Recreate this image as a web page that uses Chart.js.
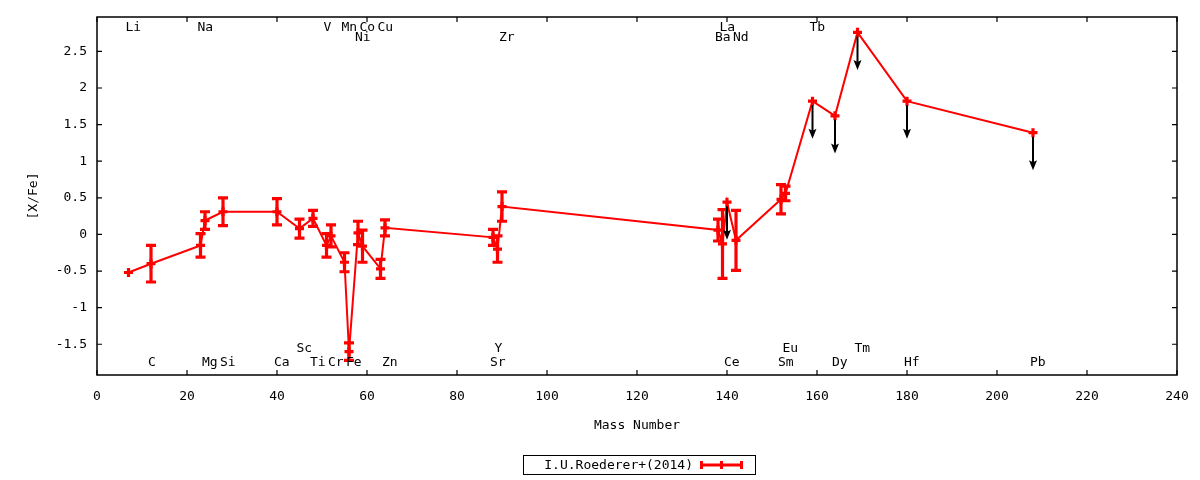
<!DOCTYPE html>
<html><head><meta charset="utf-8">
<script src="https://cdn.jsdelivr.net/npm/chart.js@4.4.1/dist/chart.umd.min.js"></script>
<style>html,body{margin:0;padding:0;background:#fff;}#wrap{width:1200px;height:480px;position:relative;}</style>
</head><body><div id="wrap"><canvas id="c" width="1200" height="480"></canvas></div>
<script>
// ---- data ----
const elements    = ['Li','C','Na','Mg','Si','Ca','Sc','Ti','V','Cr','Mn','Fe','Ni','Co','Cu','Zn','Sr','Y','Zr','Ba','La','Ce','Nd','Sm','Eu','Tb','Dy','Tm','Hf','Pb'];
const massNumbers = [7,12,23,24,28,40,45,48,51,52,55,56,58,59,63,64,88,89,90,138,139,140,142,152,153,159,164,169,180,208];
const xFe         = [-0.52,-0.40,-0.15,0.19,0.31,0.31,0.08,0.22,-0.15,-0.02,-0.38,-1.60,0.02,-0.16,-0.47,0.09,-0.04,-0.20,0.38,0.06,-0.13,0.44,-0.08,0.48,0.56,1.82,1.62,2.76,1.82,1.39];
const xFeErr      = [0,0.25,0.16,0.12,0.19,0.18,0.13,0.11,0.16,0.15,0.13,0.12,0.16,0.22,0.13,0.11,0.11,0.18,0.20,0.15,0.47,0,0.41,0.20,0.10,0,0,0,0,0];
const upperLimit  = [0,0,0,0,0,0,0,0,0,0,0,0,0,0,0,0,0,0,0,0,0,1,0,0,0,1,1,1,1,1];
const arrowLength = 0.5;
// label rows: 0 = top, 1 = top second line, 2 = bottom upper line, 3 = bottom line
const labelRow    = [0,3,0,3,3,3,2,3,0,3,0,3,1,0,0,3,3,2,1,1,0,3,1,3,2,0,3,2,3,3];
const xTicks = [0,20,40,60,80,100,120,140,160,180,200,220,240];
const yTicks = [-1.5,-1,-0.5,0,0.5,1,1.5,2,2.5];
const xRange = [0,240];
const yRange = [-1.92,2.97];
const seriesName = 'I.U.Roederer+(2014)';
const xTitle = 'Mass Number';
const yTitle = '[X/Fe]';

const RED = 'rgb(255,0,0)';
const FONT = '"DejaVu Sans Mono", monospace';
Chart.defaults.font.family = FONT;
Chart.defaults.font.size = 13;
Chart.defaults.color = '#000';

const gp = {
  id: 'gp',
  beforeDatasetsDraw(chart) {
    const {ctx, scales: {x, y}} = chart;
    ctx.save();
    ctx.strokeStyle = RED; ctx.lineWidth = 3.2; ctx.lineCap = 'butt';
    massNumbers.forEach((m, i) => {
      const e = xFeErr[i]; if (!e) return;
      const px = x.getPixelForValue(m);
      const y1 = y.getPixelForValue(xFe[i] + e), y2 = y.getPixelForValue(xFe[i] - e);
      ctx.beginPath();
      ctx.moveTo(px, y1); ctx.lineTo(px, y2);
      ctx.moveTo(px - 5, y1); ctx.lineTo(px + 5, y1);
      ctx.moveTo(px - 5, y2); ctx.lineTo(px + 5, y2);
      ctx.stroke();
    });
    ctx.restore();
  },
  afterDatasetsDraw(chart) {
    const {ctx, scales: {x, y}} = chart;
    ctx.save();
    ctx.strokeStyle = '#000'; ctx.fillStyle = '#000'; ctx.lineWidth = 2;
    massNumbers.forEach((m, i) => {
      if (!upperLimit[i]) return;
      const px = x.getPixelForValue(m);
      const y1 = y.getPixelForValue(xFe[i]);
      const y2 = y.getPixelForValue(xFe[i] - arrowLength);
      ctx.beginPath(); ctx.moveTo(px, y1 + 4); ctx.lineTo(px, y2 - 6); ctx.stroke();
      ctx.beginPath(); ctx.moveTo(px, y2 + 1); ctx.lineTo(px - 4, y2 - 9); ctx.lineTo(px, y2 - 7); ctx.lineTo(px + 4, y2 - 9); ctx.closePath(); ctx.fill();
    });
    ctx.restore();
  },
  afterDraw(chart) {
    const {ctx, chartArea: a, scales: {x, y}} = chart;
    ctx.save();
    ctx.strokeStyle = '#000'; ctx.lineWidth = 1.5;
    ctx.strokeRect(a.left, a.top, a.right - a.left, a.bottom - a.top);
    ctx.lineWidth = 1.2;
    ctx.beginPath();
    xTicks.forEach(v => {
      const px = x.getPixelForValue(v);
      ctx.moveTo(px, a.bottom); ctx.lineTo(px, a.bottom - 5);
      ctx.moveTo(px, a.top); ctx.lineTo(px, a.top + 5);
    });
    yTicks.forEach(v => {
      const py = y.getPixelForValue(v);
      ctx.moveTo(a.left, py); ctx.lineTo(a.left + 5, py);
      ctx.moveTo(a.right, py); ctx.lineTo(a.right - 5, py);
    });
    ctx.stroke();
    ctx.fillStyle = '#000';
    ctx.font = '13px ' + FONT;
    ctx.textAlign = 'left'; ctx.textBaseline = 'middle';
    const rowY = [a.top + 10.5, a.top + 20.5, a.bottom - 26, a.bottom - 12];
    elements.forEach((el, i) => {
      ctx.fillText(el, x.getPixelForValue(massNumbers[i]) - 3, rowY[labelRow[i]]);
    });
    const lx = 523, ly = 455.5, lw = 232, lh = 19;
    ctx.strokeStyle = '#000'; ctx.lineWidth = 1;
    ctx.strokeRect(lx + 0.5, ly, lw, lh);
    ctx.textAlign = 'right';
    ctx.fillText(seriesName, 693, ly + lh / 2 + 0.5);
    const sy = ly + lh / 2;
    ctx.strokeStyle = RED; ctx.lineWidth = 3;
    ctx.beginPath();
    ctx.moveTo(700, sy); ctx.lineTo(743, sy);
    ctx.moveTo(701.5, sy - 4); ctx.lineTo(701.5, sy + 4);
    ctx.moveTo(741.5, sy - 4); ctx.lineTo(741.5, sy + 4);
    ctx.moveTo(721.5, sy - 4); ctx.lineTo(721.5, sy + 4);
    ctx.stroke();
    ctx.restore();
  }
};

new Chart(document.getElementById('c'), {
  type: 'line',
  data: {
    datasets: [{
      label: seriesName,
      data: massNumbers.map((m, i) => ({x: m, y: xFe[i]})),
      borderColor: RED,
      backgroundColor: RED,
      borderWidth: 2,
      pointStyle: 'cross',
      pointRadius: 4.5,
      pointHoverRadius: 4.5,
      pointBorderWidth: 3.2,
      pointBorderColor: RED,
      tension: 0,
      clip: false
    }]
  },
  options: {
    responsive: false,
    animation: false,
    devicePixelRatio: 1,
    events: [],
    layout: {padding: {left: 0, right: 23, top: 17, bottom: 0}},
    plugins: {legend: {display: false}, tooltip: {enabled: false}},
    scales: {
      x: {
        type: 'linear', min: xRange[0], max: xRange[1],
        afterFit: s => { s.height = 105; s.paddingLeft = 0; s.paddingRight = 0; },
        afterBuildTicks: s => { s.ticks = xTicks.map(v => ({value: v})); },
        grid: {display: false, drawTicks: false},
        border: {display: false},
        ticks: {padding: 14, maxRotation: 0, autoSkip: false, callback: v => String(v), font: {size: 13}},
        title: {display: true, text: xTitle, font: {size: 13}, padding: {top: 0, bottom: 47}}
      },
      y: {
        type: 'linear', min: yRange[0], max: yRange[1],
        afterFit: s => { s.width = 97; s.paddingTop = 0; s.paddingBottom = 0; },
        afterBuildTicks: s => { s.ticks = yTicks.map(v => ({value: v})); },
        grid: {display: false, drawTicks: false},
        border: {display: false},
        ticks: {padding: 10, autoSkip: false, callback: v => String(v), font: {size: 13}},
        title: {display: true, text: yTitle, font: {size: 13}, padding: {top: 26, bottom: 0}}
      }
    }
  },
  plugins: [gp]
});
</script></body></html>
